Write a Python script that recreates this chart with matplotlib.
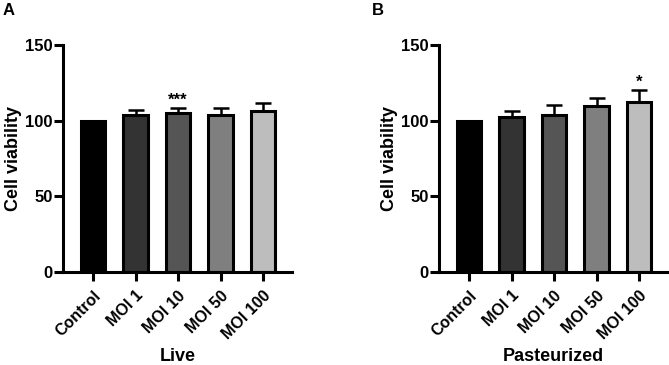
import matplotlib
matplotlib.use("Agg")
import matplotlib.pyplot as plt

plt.rcParams['font.family'] = ['Liberation Sans', 'DejaVu Sans']
plt.rcParams['font.weight'] = 'bold'

categories = ["Control", "MOI 1", "MOI 10", "MOI 50", "MOI 100"]
live_values = [100, 104, 105, 103.5, 106.5]
live_errors = [0, 3.3, 3.3, 5.2, 5.3]
past_values = [100, 102.3, 103.6, 109.8, 112.5]
past_errors = [0, 4.4, 6.9, 5.5, 7.5]
bar_colors = ["#000000", "#333333", "#555555", "#7f7f7f", "#bdbdbd"]
live_sig = {2: "***"}
past_sig = {4: "*"}
yticks = [0, 50, 100, 150]

fig = plt.figure(figsize=(6.69, 3.65), dpi=100)
axA = fig.add_axes([63/669, 93/365, 229/669, 227/365])
axB = fig.add_axes([439/669, 93/365, 229/669, 227/365])

def draw(ax, values, errors, sig, xlabel):
    x = list(range(len(categories)))
    ax.bar(x, values, width=0.58, color=bar_colors, edgecolor="black", linewidth=2.2, zorder=2)
    for i, (v, e) in enumerate(zip(values, errors)):
        if e > 0:
            ax.errorbar(i, v, yerr=[[0], [e]], fmt="none", ecolor="black",
                        elinewidth=1.8, capsize=5.5, capthick=1.8, zorder=1)
    for i, s in sig.items():
        ax.text(i, values[i] + errors[i] + 5.5, s, ha="center", va="center",
                fontsize=12, fontweight="bold")
    ax.set_xlim(-0.706, 4.68)
    ax.set_ylim(0, 150)
    ax.set_yticks(yticks)
    ax.set_xticks(x)
    ax.set_xticklabels(categories, rotation=45, ha="right", rotation_mode="anchor",
                       fontsize=11.5, fontweight="bold")
    ax.set_ylabel("Cell viability", fontsize=13, fontweight="bold", labelpad=2)
    ax.set_xlabel(xlabel, fontsize=13, fontweight="bold", labelpad=4)
    for sp in ["top", "right"]:
        ax.spines[sp].set_visible(False)
    for sp in ["left", "bottom"]:
        ax.spines[sp].set_linewidth(2.2)
    ax.tick_params(axis="both", width=2.2, length=6.5, labelsize=12)
    ax.tick_params(axis="y", pad=1)
    ax.tick_params(axis="x", labelsize=11.5, pad=5)
    for lbl in ax.get_yticklabels():
        lbl.set_fontweight("bold")

draw(axA, live_values, live_errors, live_sig, "Live")
draw(axB, past_values, past_errors, past_sig, "Pasteurized")

fig.text(3/669, 1 - 3/365, "A", fontsize=12, fontweight="bold", va="top", ha="left")
fig.text(372/669, 1 - 3/365, "B", fontsize=12, fontweight="bold", va="top", ha="left")

fig.savefig("out.png", dpi=100)
